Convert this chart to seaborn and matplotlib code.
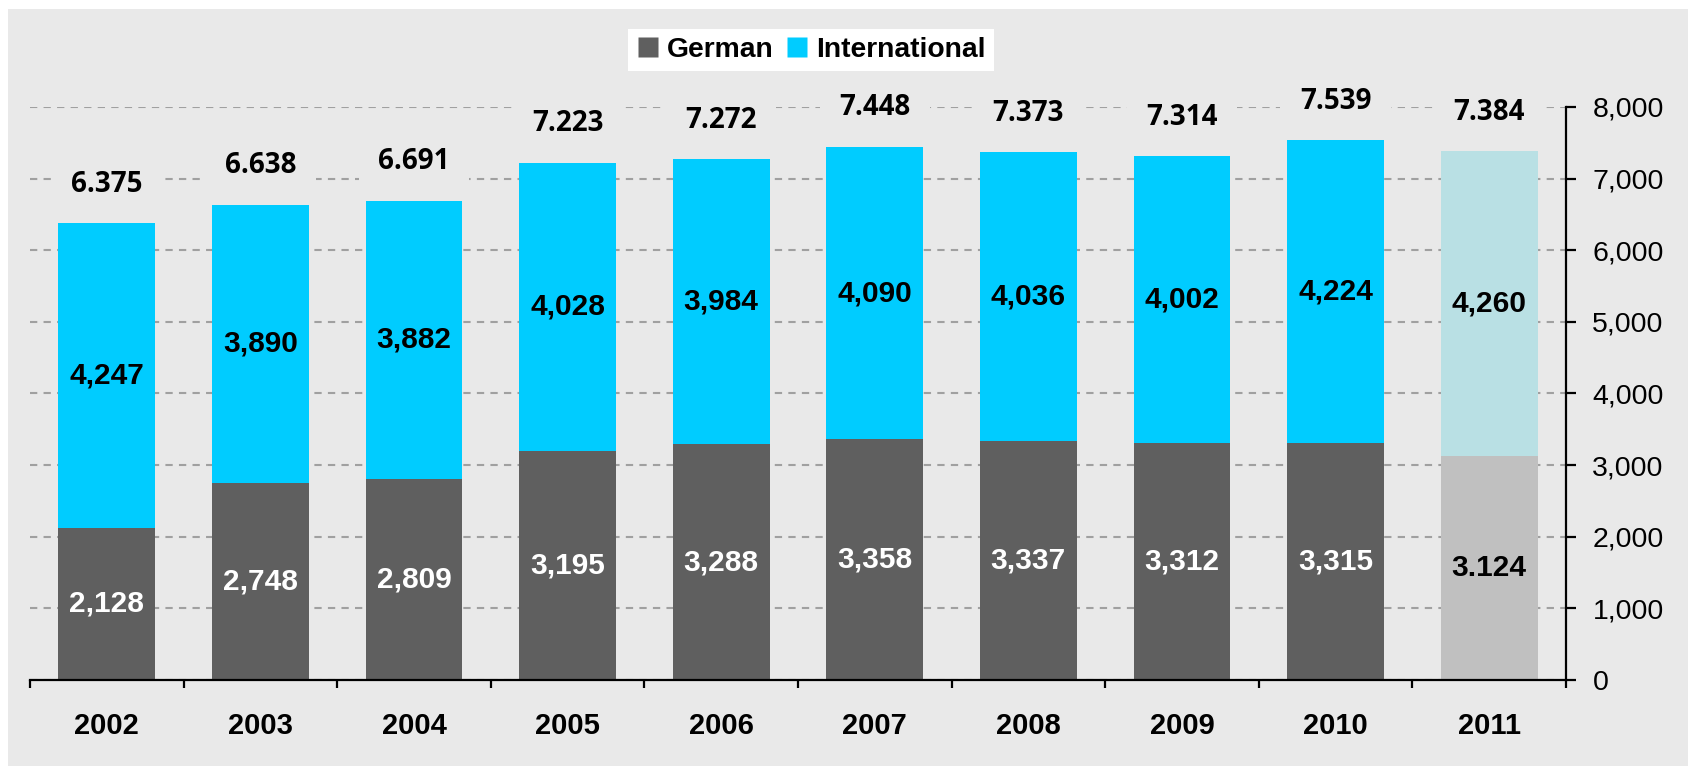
import numpy as np
import pandas as pd
import matplotlib.pyplot as plt
import seaborn as sns
from matplotlib.lines import Line2D
from matplotlib.patches import Rectangle
from matplotlib.ticker import FuncFormatter

# Data
years = ["2002", "2003", "2004", "2005", "2006", "2007", "2008", "2009", "2010", "2011"]
german = [2128, 2748, 2809, 3195, 3288, 3358, 3337, 3312, 3315, 3124]
international = [4247, 3890, 3882, 4028, 3984, 4090, 4036, 4002, 4224, 4260]
total_labels = ["6.375", "6.638", "6.691", "7.223", "7.272", "7.448", "7.373", "7.314", "7.539", "7.384"]
german_labels = ["2,128", "2,748", "2,809", "3,195", "3,288", "3,358", "3,337", "3,312", "3,315", "3.124"]
intl_labels = ["4,247", "3,890", "3,882", "4,028", "3,984", "4,090", "4,036", "4,002", "4,224", "4,260"]

bg = "#E9E9E9"
german_colors = ["#5F5F5F"] * 9 + ["#C0C0C0"]
intl_colors = ["#00CCFF"] * 9 + ["#B9E0E4"]

df = pd.DataFrame({"year": years, "german": german, "international": international})
df["total"] = df["german"] + df["international"]

plt.rcParams["font.family"] = ["Liberation Sans", "DejaVu Sans"]

fig = plt.figure(figsize=(16.88, 7.66), dpi=100, facecolor="white")
fig.patches.append(Rectangle((8 / 1688, 0), 1, 1 - 9 / 766, transform=fig.transFigure,
                             facecolor=bg, edgecolor="none", zorder=-10))
ax = fig.add_axes([30 / 1688, 1 - 680 / 766, (1566 - 30) / 1688, (680 - 107) / 766])
ax.set_facecolor("none")

# stacked bars: full total first, German on top of it
sns.barplot(data=df, x="year", y="total", hue="year", palette=dict(zip(years, intl_colors)),
            width=0.63, saturation=1, linewidth=0, legend=False, ax=ax, zorder=2)
sns.barplot(data=df, x="year", y="german", hue="year", palette=dict(zip(years, german_colors)),
            width=0.63, saturation=1, linewidth=0, legend=False, ax=ax, zorder=2)

ax.set_xlim(-0.5, 9.5)
ax.set_ylim(0, 8000)
ax.set_xlabel("")
ax.set_ylabel("")

# axes styling
for side in ["left", "top"]:
    ax.spines[side].set_visible(False)
for side in ["right", "bottom"]:
    ax.spines[side].set_linewidth(1.6)
    ax.spines[side].set_color("black")

ax.yaxis.tick_right()
ax.set_yticks(np.arange(0, 8001, 1000))
ax.yaxis.set_major_formatter(FuncFormatter(lambda v, p: f"{int(v):,}"))
ax.tick_params(axis="y", length=7, width=1.6, pad=12, labelsize=20.5, direction="out")

ax.set_xticks(range(len(years)))
ax.set_xticklabels(years, fontweight="bold", fontsize=21)
ax.set_xticks(np.arange(-0.5, 10, 1), minor=True)
ax.tick_params(axis="x", which="major", length=0, pad=23)
ax.tick_params(axis="x", which="minor", length=6, width=1.6, direction="out")

ax.set_axisbelow(True)
ax.yaxis.grid(True, linestyle=(0, (3.5, 3)), color="#A0A0A0", linewidth=1.5)
ax.xaxis.grid(False)

# segment labels
for i in range(len(years)):
    g = german[i]
    it = international[i]
    ax.text(i, g / 2, german_labels[i], ha="center", va="center", fontsize=21.5, fontweight="bold",
            color="white" if i < 9 else "black", zorder=4)
    ax.text(i, g + it / 2, intl_labels[i], ha="center", va="center", fontsize=21.5,
            fontweight="bold", color="black", zorder=4)
    ax.annotate(total_labels[i], (i, g + it), xytext=(0, 28), textcoords="offset points",
                ha="center", va="center", fontsize=20, fontweight="bold",
                family=["Open Sans", "DejaVu Sans"], annotation_clip=False,
                bbox=dict(boxstyle="square,pad=0.7", fc=bg, ec="none"), zorder=3)

handles = [
    Line2D([], [], marker="s", linestyle="none", markersize=14, markerfacecolor="#5F5F5F", markeredgecolor="none"),
    Line2D([], [], marker="s", linestyle="none", markersize=14, markerfacecolor="#00CCFF", markeredgecolor="none"),
]
fig.legend(handles, ["German", "International"], loc="center", bbox_to_anchor=(811 / 1688, 1 - 50 / 766),
           ncol=2, frameon=True, facecolor="white", edgecolor="none", fancybox=False, framealpha=1,
           handlelength=0.8, handletextpad=0.3, columnspacing=0.4, borderpad=0.3,
           prop={"weight": "bold", "size": 20.3})

fig.savefig("out.png", dpi=100, facecolor="white")
